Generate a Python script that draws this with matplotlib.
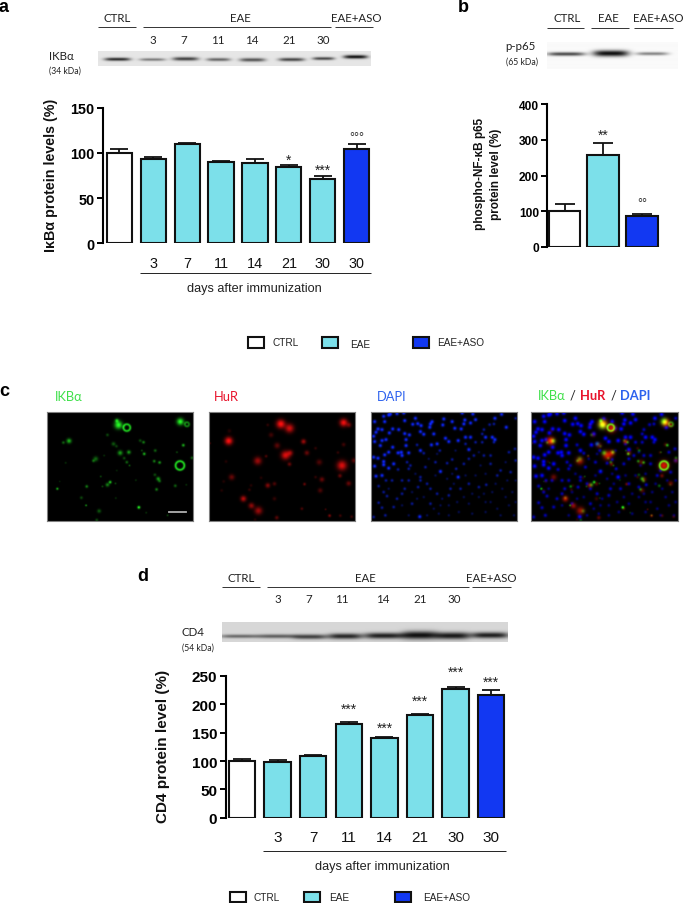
import numpy as np
import matplotlib
matplotlib.use('Agg')
import matplotlib.pyplot as plt
from matplotlib.patches import Rectangle

W, H = 685, 904
ARIAL = 'Liberation Sans'
CALI = ['Lato', 'Open Sans', 'DejaVu Sans']
CYAN = '#7ce0ea'
BLUE = '#1238f2'
DAY_LABELS = ['3', '7', '11', '14', '21', '30']

# panel a
a_values = [100, 93, 110, 89.5, 89, 84, 71, 104]
a_errors = [4.5, 2.5, 1.5, 1.5, 4, 2.5, 4, 6]
a_ticks = [0, 50, 100, 150]
a_labels = [''] + DAY_LABELS + ['30']
a_marks = {5: '*', 6: '***', 7: '°°°'}

# panel b
b_values = [100, 258, 85]
b_errors = [20, 33, 7]
b_ticks = [0, 100, 200, 300, 400]
b_marks = {1: '**', 2: '°°'}

# panel d
d_values = [100, 99, 108, 166, 140, 181, 227, 216]
d_errors = [4, 3, 2, 3, 2, 2, 3, 9]
d_ticks = [0, 50, 100, 150, 200, 250]
d_labels = [''] + DAY_LABELS + ['30']
d_marks = {3: '***', 4: '***', 5: '***', 6: '***', 7: '***'}

# western blot bands: x, y (pixels in the figure), half width, half height, strength
a_bands = [(117, 60.7, 13, 1.6, .88), (152, 61, 13, 1.4, .5), (185, 60.3, 13, 1.8, .78),
           (218, 61, 12, 1.6, .6), (252, 61.3, 13, 1.8, .68), (291, 61, 13, 1.7, .75),
           (323, 60, 11, 1.5, .75), (355, 58.3, 12, 1.8, 1.0)]
b_bands = [(566, 55.3, 19, 1.8, .75), (610.7, 54.7, 18, 3, 1.0), (652, 55, 16, 1.6, .5)]
d_bands = [(240, 637, 20, 1.8, .55), (277, 637, 19, 2, .6), (310, 637.5, 17, 2.4, .75),
           (345, 637, 17, 2.8, .88), (384, 636.5, 20, 3, .92), (420, 636, 18, 4, 1.0),
           (453, 636.5, 17, 3.5, .95), (490, 636, 19, 3, .92)]

# fluorescence spots: x, y, size, brightness
green_spots = [(233, 48, 8, 1), (228, 35, 4, .7), (418, 38, 7, 1), (85, 96, 5, .7), (68, 101, 3, .4),
               (200, 78, 3, .3), (238, 132, 5, .6), (264, 130, 4, .6), (250, 148, 3, .3), (258, 160, 3, .4),
               (266, 170, 2, .4), (298, 95, 3, .3), (308, 100, 3, .5), (218, 105, 4, .35), (227, 112, 3, .25),
               (310, 135, 3, .7), (303, 125, 2, .3), (343, 125, 3, .4), (427, 109, 3, .7), (408, 130, 2, .3),
               (340, 157, 3, .5), (356, 161, 3, .6), (453, 147, 3, .4), (165, 150, 5, .4), (158, 156, 3, .4),
               (190, 140, 2, .2), (75, 162, 2, .2), (50, 240, 2.5, .7), (138, 233, 3, .5), (208, 220, 3, .8),
               (200, 228, 4, .5), (185, 233, 2, .3), (224, 224, 2, .3), (180, 203, 2, .3), (352, 210, 4, .6),
               (342, 198, 3, .3), (356, 217, 3, .4), (347, 242, 3, .5), (403, 231, 3, .4), (436, 228, 2, .2),
               (285, 214, 2, .2), (122, 267, 3, .3), (136, 290, 2, .6), (294, 296, 3, 1.0), (175, 307, 4, .35),
               (168, 334, 3, .3), (225, 268, 2, .2), (316, 312, 2, .2), (380, 320, 2, .3), (57, 218, 1.5, .2),
               (228, 185, 2, .15)]
green_rings = [(258, 56, 10, .8), (438, 46, 6, .5), (417, 170, 13, .85)]
red_spots = [(224, 45, 9, 1), (250, 58, 9, .8), (68, 96, 8, 1), (412, 41, 8, .95), (428, 48, 5, .4),
             (238, 139, 9, .85), (252, 132, 6, .5), (155, 156, 8, .6), (180, 142, 3, .3), (407, 170, 10, .85),
             (292, 98, 5, .6), (302, 132, 5, .4), (213, 110, 6, .35), (195, 78, 5, .25), (185, 48, 3, .2),
             (250, 166, 4, .4), (339, 160, 6, .3), (77, 205, 6, .4), (347, 212, 5, .4), (401, 201, 4, .4),
             (427, 224, 5, .4), (185, 230, 5, .5), (205, 225, 4, .3), (295, 226, 3, .4), (112, 270, 6, .7),
             (136, 291, 6, .55), (157, 306, 8, .6), (212, 327, 4, .35), (342, 245, 5, .3), (370, 321, 3, .5),
             (402, 321, 3, .25), (436, 324, 3, .25), (358, 302, 2, .3), (287, 300, 3, .3), (130, 243, 3, .2),
             (135, 230, 3, .15), (47, 245, 3, .15), (205, 270, 4, .2), (60, 158, 3, .15), (412, 107, 4, .25),
             (395, 131, 3, .2), (443, 155, 5, .35), (12, 103, 2, .3), (328, 118, 3, .2), (328, 205, 3, .2),
             (165, 207, 3, .15), (53, 218, 3, .15), (147, 333, 3, .15), (70, 66, 4, .15)]
blue_bright = [(45, 22), (60, 18), (18, 38), (48, 38), (65, 15), (85, 14), (105, 12), (140, 28), (108, 35),
               (132, 46), (147, 44), (157, 50), (185, 45), (183, 55), (190, 38), (225, 30), (222, 48), (250, 38),
               (258, 58), (277, 60), (288, 33), (285, 45), (305, 42), (320, 32), (312, 15), (280, 12), (398, 16),
               (378, 28), (412, 55), (22, 70), (40, 62), (15, 82), (28, 60), (72, 60), (90, 62), (108, 74),
               (122, 78), (62, 72), (155, 68), (165, 76), (195, 75), (230, 88), (240, 98), (268, 95), (290, 85),
               (305, 85), (350, 85), (370, 85), (378, 92), (112, 92), (52, 92), (40, 95), (18, 98), (35, 110),
               (72, 115), (112, 110), (120, 132), (98, 130), (88, 132), (60, 130), (48, 138), (100, 140),
               (188, 108), (205, 105), (155, 125), (300, 122), (15, 145), (28, 148), (45, 158), (18, 172),
               (45, 168), (75, 165), (60, 178), (22, 202), (268, 205), (215, 188), (153, 324), (40, 200)]
blue_mid = [(145, 108), (165, 133), (115, 160), (125, 170), (88, 182), (120, 180), (213, 125), (235, 163),
            (290, 105), (320, 100), (340, 100), (340, 75), (375, 100), (345, 62), (375, 45), (362, 47), (440, 28),
            (438, 120), (420, 130), (365, 140), (345, 140), (315, 140), (300, 150), (285, 165), (262, 180),
            (250, 152), (200, 160), (170, 175), (155, 205), (155, 215), (100, 215), (70, 215), (52, 215), (30, 232),
            (45, 250), (55, 262), (108, 240), (148, 235), (175, 225), (185, 240), (205, 255), (245, 240), (275, 240),
            (300, 225), (330, 235), (352, 228), (100, 255), (75, 295), (40, 297), (50, 320), (15, 325), (30, 282),
            (395, 185), (425, 190), (365, 165), (440, 155), (385, 200), (120, 215), (85, 270), (130, 285), (185, 285),
            (240, 260)]
blue_dim = [(235, 210), (290, 200), (320, 200), (350, 195), (415, 215), (400, 240), (430, 250), (370, 250), (350, 280),
            (365, 280), (300, 285), (285, 265), (265, 280), (240, 290), (215, 290), (195, 300), (210, 315), (175, 320),
            (120, 320), (100, 290), (165, 265), (145, 270), (350, 310), (385, 300), (420, 290), (440, 280), (410, 265),
            (330, 265), (310, 255), (270, 310), (310, 315), (240, 320), (395, 320), (60, 240), (130, 250), (220, 270),
            (255, 225), (345, 255), (380, 225), (440, 215), (200, 200), (250, 195), (140, 195), (435, 320), (335, 170),
            (410, 160), (260, 125), (205, 135), (180, 150), (330, 130)]


def px_axes(left, top, right, bottom, **kw):
    return fig.add_axes([left / W, 1 - bottom / H, (right - left) / W, (bottom - top) / H], **kw)


def hline(x0, x1, y, color='#333333', lw=0.7):
    ov.plot([x0, x1], [y, y], color=color, lw=lw, solid_capstyle='butt')


def label(x, y, s, size=8, ha='center', family=CALI, color='#222222', weight='normal'):
    ov.text(x, y, s, fontsize=size, ha=ha, va='center', family=family, color=color, weight=weight)


def bars(ax, values, errors, colors, ticks, labels, marks, y_max, x_lim, width, tick_size, mark_off):
    pos = np.arange(len(values))
    ax.bar(pos, values, width=width, color=colors, edgecolor='#111111', linewidth=1.5, zorder=3)
    ax.errorbar(pos, values, yerr=[np.zeros(len(errors)), errors], fmt='none', ecolor='#111111',
                elinewidth=1.3, capsize=width * 8.5, capthick=1.3, zorder=2)
    for i, s in marks.items():
        ax.text(pos[i], values[i] + errors[i] + mark_off[i], s, ha='center', va='center',
                fontsize=10 if '*' in s else 9, family=ARIAL, color='#222222')
    ax.set_xlim(x_lim)
    ax.set_ylim(0, y_max)
    ax.set_yticks(ticks)
    ax.set_xticks(pos)
    ax.set_xticklabels(labels, fontsize=tick_size, family=ARIAL, color='#111111')
    ax.tick_params(axis='x', length=0, pad=9)
    ax.tick_params(axis='y', length=4.5, width=1.4, pad=1.5, labelsize=tick_size)
    for t in ax.get_yticklabels():
        t.set_family(ARIAL)
        t.set_weight('bold')
    for side in ['top', 'right', 'bottom']:
        ax.spines[side].set_visible(False)
    ax.spines['left'].set_linewidth(1.5)
    ax.patch.set_alpha(0)


def blot(bands, left, top, right, bottom, bg):
    xx, yy = np.meshgrid(np.arange(left, right, 0.5), np.arange(top, bottom, 0.5))
    img = np.zeros_like(xx)
    for x, y, hw, hh, s in bands:
        img += s * np.exp(-((xx - x) / hw) ** 4) * np.exp(-((yy - y) / hh) ** 2)
    img = np.clip(bg - np.clip(img, 0, 1) * (bg - 15), 0, 255)
    ax = px_axes(left, top, right, bottom)
    ax.imshow(img, cmap='gray', vmin=0, vmax=255, aspect='auto', interpolation='bilinear')
    ax.axis('off')


def spots_image(spots, rings, dx, dy):
    xx, yy = np.meshgrid(np.arange(0, 439, 2.0), np.arange(0, 327, 2.0))
    img = np.zeros_like(xx)
    for x, y, s, a in spots:
        img += a * np.exp(-((xx - x + dx) ** 2 + (yy - y + dy) ** 2) / (2 * s ** 2))
    for x, y, r, a in rings:
        d = np.hypot(xx - x + dx, yy - y + dy)
        img += a * np.exp(-((d - r) ** 2) / (2 * 2.5 ** 2))
    return np.clip(img, 0, 1)


def micro(left, img):
    ax = px_axes(left, 413.4, left + 146.3, 522)
    ax.imshow(img, extent=(0, 439, 327, 0), aspect='auto', interpolation='bilinear')
    ax.set_xticks([])
    ax.set_yticks([])
    for s in ax.spines.values():
        s.set_color('#808080')
        s.set_linewidth(0.8)
    return ax


fig = plt.figure(figsize=(W / 100, H / 100), dpi=100)

# overlay in figure pixels for the hand placed labels
ov = fig.add_axes([0, 0, 1, 1])
ov.set_xlim(0, W)
ov.set_ylim(H, 0)
ov.axis('off')

# panel letters
label(4, 8, 'a', 13, family=ARIAL, weight='bold', color='black')
label(463, 7, 'b', 13, family=ARIAL, weight='bold', color='black')
label(4, 392, 'c', 13, family=ARIAL, weight='bold', color='black')
label(143, 577, 'd', 13, family=ARIAL, weight='bold', color='black')

# panel a headers and blot
for x, s in zip([116.7, 240.7, 356.7], ['CTRL', 'EAE', 'EAE+ASO']):
    label(x, 18, s, 8.3)
for x0, x1 in [(97.7, 135.7), (142.7, 331), (335, 373)]:
    hline(x0, x1, 28.3)
for x, s in zip([153, 184, 217.3, 252, 289, 323], DAY_LABELS):
    label(x, 40, s, 8.3)
label(49, 56, 'IKBα', 8.3, ha='left')
label(49, 71, '(34 kDa)', 6.2, ha='left')
blot(a_bands, 97.7, 51.7, 370.7, 67.3, 230)

ax_a = px_axes(103, 108.7, 372, 244.3)
bars(ax_a, a_values, a_errors, ['white'] + [CYAN] * 6 + [BLUE], a_ticks, a_labels, a_marks,
     150, (-0.48, 7.45), 0.74, 10.4, {5: 6, 6: 6, 7: 8})
label(51, 175, 'IκBα protein levels (%)', 10.3, family=ARIAL, weight='bold', color='#111111')
ov.texts[-1].set_rotation(90)
hline(140, 371, 274.3, color='#222222')
label(254.7, 289.5, 'days after immunization', 9.2, family=ARIAL)

# panel a legend
for x, c in [(247.3, 'white'), (321.7, CYAN), (412.3, BLUE)]:
    ov.add_patch(Rectangle((x + 0.7, 338.4), 16, 10.8, fc=c, ec='#111111', lw=1.5))
label(272.3, 343.3, 'CTRL', 7.2, ha='left', family=ARIAL)
label(350.3, 344.7, 'EAE', 7.2, ha='left', family=ARIAL)
label(437, 343.3, 'EAE+ASO', 7.2, ha='left', family=ARIAL)

# panel b
for x, s in zip([566.7, 608.3, 658.7], ['CTRL', 'EAE', 'EAE+ASO']):
    label(x, 18.3, s, 8.3)
for x0, x1 in [(546.7, 584.3), (591, 629), (634.3, 672.7)]:
    hline(x0, x1, 29)
label(505.7, 46.7, 'p-p65', 8.3, ha='left')
label(505.7, 62.3, '(65 kDa)', 6.2, ha='left')
blot(b_bands, 547, 43, 678, 70, 250)

ax_b = px_axes(547.3, 105.3, 665, 247.7)
bars(ax_b, b_values, b_errors, ['white', CYAN, BLUE], b_ticks, ['', '', ''], b_marks,
     400, (-0.45, 2.6), 0.82, 8.6, {1: 24, 2: 31})
label(480, 174, 'phospho-NF-κB p65', 8.5, family=ARIAL, weight='bold', color='#111111')
ov.texts[-1].set_rotation(90)
label(496, 174, 'protein level (%)', 8.5, family=ARIAL, weight='bold', color='#111111')
ov.texts[-1].set_rotation(90)

# panel c
gr = spots_image(green_spots, green_rings, 20, 10)
rd = spots_image(red_spots, [], 10, 10)
bl_b = spots_image([(x, y, 3.6, 1) for x, y in blue_bright] + [(x, y, 3, .6) for x, y in blue_mid]
                   + [(x, y, 2.6, .33) for x, y in blue_dim], [], 8, 10)
zeros = np.zeros_like(gr)
micro(46.7, np.dstack([0.15 * gr, gr, 0.15 * gr]))
ax_g = fig.axes[-1]
ax_g.plot([368, 417], [301, 301], color='#b0b0b0', lw=1.3)
micro(208.5, np.dstack([rd, 0.06 * rd, 0.06 * rd]))
micro(370.7, np.dstack([0.05 * bl_b, 0.15 * bl_b, bl_b]))
top = np.clip(rd + gr, 0, 1)
merged_b = np.clip(bl_b ** 0.7, 0, 1) * (1 - top)
micro(531.3, np.dstack([np.clip(rd + 0.1 * gr, 0, 1), np.clip(gr + 0.08 * rd, 0, 1),
                        np.clip(merged_b + 0.1 * gr, 0, 1)]))

C_GREEN, C_RED, C_BLUE = '#3fe04a', '#e8142c', '#2d62ee'
label(55, 397, 'IKBα', 9.3, ha='left', color=C_GREEN)
label(214, 397, 'HuR', 9.3, ha='left', color=C_RED)
label(377, 397, 'DAPI', 9.3, ha='left', color=C_BLUE)
label(538, 396, 'IKBα', 9.3, ha='left', color=C_GREEN)
label(570, 396, '/', 9.3, ha='left', color='#222222')
label(580, 396, 'HuR', 9.3, ha='left', color=C_RED, weight='bold')
label(611, 396, '/', 9.3, ha='left', color='#222222')
label(620, 396, 'DAPI', 9.3, ha='left', color=C_BLUE, weight='bold')

# panel d
for x, s in zip([241, 365, 491], ['CTRL', 'EAE', 'EAE+ASO']):
    label(x, 578.3, s, 8.3)
for x0, x1 in [(222.3, 260), (267.3, 469.3), (472.3, 510.7)]:
    hline(x0, x1, 588.3)
for x, s in zip([277.7, 308.7, 342, 382.7, 420, 454], DAY_LABELS):
    label(x, 600, s, 8.3)
label(182, 632.7, 'CD4', 8.3, ha='left')
label(182, 647.7, '(54 kDa)', 6.2, ha='left')
blot(d_bands, 222.3, 623, 508, 643, 215)

ax_d = px_axes(225.7, 677, 509, 818.7)
bars(ax_d, d_values, d_errors, ['white'] + [CYAN] * 6 + [BLUE], d_ticks, d_labels, d_marks,
     250, (-0.46, 7.5), 0.74, 11, {3: 24, 4: 17, 5: 23, 6: 27, 7: 14})
label(163, 746, 'CD4 protein level (%)', 11, family=ARIAL, weight='bold', color='#111111')
ov.texts[-1].set_rotation(90)
hline(263.3, 505.7, 851.7, color='#222222')
label(382.7, 867.3, 'days after immunization', 9.2, family=ARIAL)

for x, c in [(229.3, 'white'), (303.7, CYAN), (394.3, BLUE)]:
    ov.add_patch(Rectangle((x + 0.7, 892.5), 16, 10.5, fc=c, ec='#111111', lw=1.5))
label(254, 897.7, 'CTRL', 7.2, ha='left', family=ARIAL)
label(329.3, 898, 'EAE', 7.2, ha='left', family=ARIAL)
label(423, 898, 'EAE+ASO', 7.2, ha='left', family=ARIAL)

fig.savefig('out.png', dpi=100)
